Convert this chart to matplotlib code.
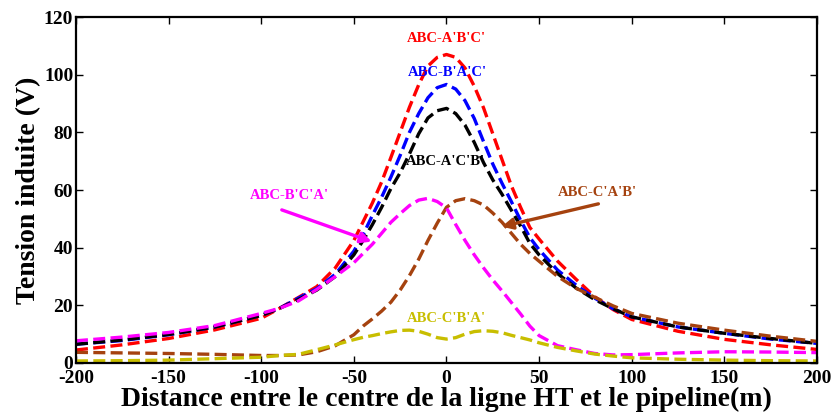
import matplotlib
matplotlib.use("Agg")
import matplotlib.pyplot as plt

# ---------------- data ----------------
x = [-200, -175, -150, -125, -100, -90, -80, -70, -60, -50, -45, -40, -35, -30, -25, -20,
     -15, -10, -5, 0, 5, 10, 15, 20, 25, 30, 35, 40, 45, 50, 60, 70, 80, 90, 100, 125,
     150, 175, 200]

red_abc_apbpcp = [4.5, 6.3, 8.5, 11.5, 15.5, 19.0, 22.7, 26.5, 33.0, 42.5, 49.0, 55.5, 62.8,
                  71.3, 80.0, 88.7, 96.5, 103.0, 106.0, 107.0, 106.0, 102.3, 96.0, 88.5,
                  79.5, 70.5, 61.5, 54.0, 47.0, 43.0, 35.3, 29.0, 23.0, 18.5, 15.1, 11.0,
                  8.2, 6.3, 4.7]

blue_abc_bpapcp = [6.5, 7.8, 9.8, 12.5, 16.5, 19.0, 22.5, 25.8, 30.8, 38.8, 44.5, 51.2, 57.5,
                   64.5, 72.0, 80.0, 86.5, 92.0, 95.5, 96.6, 95.0, 91.0, 84.8, 76.8, 69.0,
                   62.3, 56.0, 49.5, 43.5, 39.3, 32.2, 27.0, 22.5, 18.8, 16.0, 12.5, 10.3,
                   8.3, 6.8]

black_abc_apcpbp = [6.5, 8.0, 9.9, 12.5, 16.5, 19.0, 22.0, 25.3, 30.0, 37.5, 42.5, 48.0, 54.0,
                    60.5, 66.0, 72.5, 79.5, 85.0, 87.5, 88.3, 86.5, 82.5, 76.5, 69.5, 63.5,
                    58.5, 53.0, 47.5, 41.5, 37.5, 31.0, 26.0, 22.0, 18.8, 16.0, 12.5, 10.3,
                    8.5, 6.8]

magenta_abc_bpcpap = [7.7, 9.0, 10.6, 13.0, 17.2, 19.0, 21.5, 25.5, 30.0, 34.8, 38.0, 41.2,
                      45.0, 48.8, 51.8, 54.6, 56.5, 57.1, 56.0, 53.8, 48.0, 42.5, 37.5, 33.0,
                      28.8, 25.0, 21.0, 17.0, 12.8, 9.5, 6.0, 4.6, 3.3, 2.8, 2.9, 3.5, 3.9,
                      3.8, 3.6]

brown_abc_cpapbp = [3.7, 3.5, 3.3, 3.0, 2.6, 2.6, 2.8, 3.9, 6.0, 9.8, 12.8, 15.3, 18.0, 21.1,
                    25.3, 30.3, 36.0, 42.5, 48.5, 54.0, 56.3, 57.0, 56.3, 54.8, 52.0, 48.8,
                    45.0, 41.2, 38.0, 35.3, 30.0, 25.9, 22.8, 19.8, 17.2, 13.8, 11.4, 9.3,
                    7.5]

yellow_abc_cpbpap = [0.7, 0.8, 1.0, 1.5, 2.0, 2.6, 3.0, 4.6, 6.3, 8.1, 8.9, 9.5, 10.2, 10.8,
                     11.3, 11.4, 11.0, 10.0, 8.8, 8.3, 8.8, 10.0, 10.9, 11.2, 11.0, 10.5, 9.6,
                     8.8, 8.0, 7.0, 5.4, 4.2, 3.1, 2.4, 1.8, 1.3, 1.0, 0.8, 0.7]

labels = ["ABC-A'B'C'", "ABC-B'A'C'", "ABC-A'C'B'", "ABC-B'C'A'", "ABC-C'A'B'", "ABC-C'B'A'"]
xticks = [-200, -150, -100, -50, 0, 50, 100, 150, 200]
yticks = [0, 20, 40, 60, 80, 100, 120]

# ---------------- style ----------------
plt.rcParams['font.family'] = ['Liberation Serif', 'DejaVu Serif']
plt.rcParams['font.weight'] = 'bold'
plt.rcParams['axes.unicode_minus'] = False

RED = '#FF0000'
BLUE = '#0000FF'
BLACK = '#000000'
MAGENTA = '#FF00FF'
BROWN = '#A5420F'
YELLOW = '#C8BE00'

fig = plt.figure(figsize=(8.34, 4.17), dpi=100)
ax = fig.add_axes([0.0911, 0.1295, 0.8885, 0.8297])

ls = (0, (3.6, 1.6))
lw = 2.4
series = [
    (red_abc_apbpcp, RED),
    (blue_abc_bpapcp, BLUE),
    (black_abc_apcpbp, BLACK),
    (brown_abc_cpapbp, BROWN),
    (magenta_abc_bpcpap, MAGENTA),
    (yellow_abc_cpbpap, YELLOW),
]
for ys, c in series:
    ax.plot(x, ys, color=c, linestyle=ls, linewidth=lw)

ax.set_xlim(-200, 200)
ax.set_ylim(0, 120)
ax.set_xticks(xticks)
ax.set_yticks(yticks)
ax.tick_params(direction='in', top=True, right=True, length=5, width=1.0,
               labelsize=14)
ax.tick_params(axis='x', pad=5)
ax.tick_params(axis='y', pad=2)
for lab in ax.get_xticklabels() + ax.get_yticklabels():
    lab.set_fontweight('bold')
for sp in ax.spines.values():
    sp.set_linewidth(1.6)

ax.set_xlabel("Distance entre le centre de la ligne HT et le pipeline(m)",
              fontsize=20, fontweight='bold', labelpad=0)
ax.set_ylabel("Tension induite (V)", fontsize=20, fontweight='bold', labelpad=2)

tfs = 10.5
ax.text(0, 112.4, labels[0], color=RED, fontsize=tfs, fontweight='bold', ha='center', va='center')
ax.text(0.6, 100.8, labels[1], color=BLUE, fontsize=tfs, fontweight='bold', ha='center', va='center')
ax.text(-0.5, 69.8, labels[2], color=BLACK, fontsize=tfs, fontweight='bold', ha='center', va='center')
ax.text(-85, 58.0, labels[3], color=MAGENTA, fontsize=tfs, fontweight='bold', ha='center', va='center')
ax.text(81.4, 59.1, labels[4], color=BROWN, fontsize=tfs, fontweight='bold', ha='center', va='center')
ax.text(0.1, 15.5, labels[5], color=YELLOW, fontsize=tfs, fontweight='bold', ha='center', va='center')

ax.annotate("", xy=(-40.4, 42.1), xytext=(-88.9, 53.1),
            arrowprops=dict(arrowstyle='-|>', color=MAGENTA, lw=2.4, mutation_scale=16,
                            shrinkA=0, shrinkB=0))
ax.annotate("", xy=(29.8, 47.3), xytext=(82.0, 55.2),
            arrowprops=dict(arrowstyle='-|>', color=BROWN, lw=2.4, mutation_scale=16,
                            shrinkA=0, shrinkB=0))

fig.savefig("out.png", dpi=100)
